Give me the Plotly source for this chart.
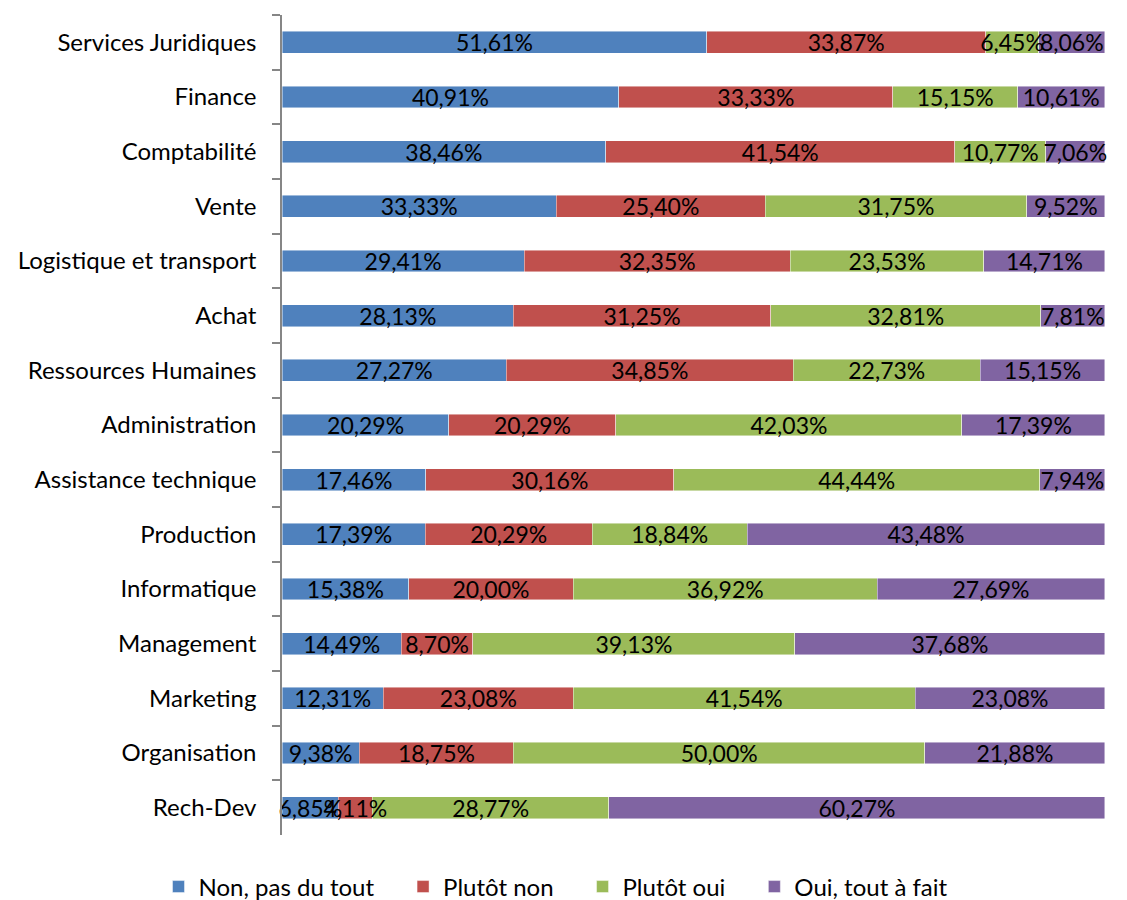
import plotly.graph_objects as go

categories = ["Services Juridiques", "Finance", "Comptabilité", "Vente",
              "Logistique et transport", "Achat", "Ressources Humaines",
              "Administration", "Assistance technique", "Production",
              "Informatique", "Management", "Marketing", "Organisation", "Rech-Dev"]

non_pas_du_tout = [51.61, 40.91, 38.46, 33.33, 29.41, 28.13, 27.27, 20.29, 17.46, 17.39, 15.38, 14.49, 12.31, 9.38, 6.85]
plutot_non = [33.87, 33.33, 41.54, 25.40, 32.35, 31.25, 34.85, 20.29, 30.16, 20.29, 20.00, 8.70, 23.08, 18.75, 4.11]
plutot_oui = [6.45, 15.15, 10.77, 31.75, 23.53, 32.81, 22.73, 42.03, 44.44, 18.84, 36.92, 39.13, 41.54, 50.00, 28.77]
oui_tout_a_fait = [8.06, 10.61, 7.06, 9.52, 14.71, 7.81, 15.15, 17.39, 7.94, 43.48, 27.69, 37.68, 23.08, 21.88, 60.27]

series_names = ["Non, pas du tout", "Plutôt non", "Plutôt oui", "Oui, tout à fait"]
colors = ["#4F81BD", "#C0504D", "#9BBB59", "#8064A2"]

FONT = "Lato, 'Open Sans', sans-serif"
LABEL_SIZE = 23
CAT_SIZE = 24

def fmt(v):
    return f"{v:.2f}".replace(".", ",") + "%"

all_series = [non_pas_du_tout, plutot_non, plutot_oui, oui_tout_a_fait]

fig = go.Figure()
# coloured bars
for name, vals, col in zip(series_names, all_series, colors):
    fig.add_trace(go.Bar(
        y=categories, x=vals, name=name + "\u2002\u2002", orientation="h",
        marker=dict(color=col, line=dict(color="rgba(255,255,255,0.6)", width=0.75)),
        hoverinfo="skip", xaxis="x", yaxis="y",
    ))
# transparent overlay bars carrying the labels, drawn on top of every bar
for name, vals in zip(series_names, all_series):
    fig.add_trace(go.Bar(
        y=categories, x=vals, name=name, orientation="h", showlegend=False,
        marker=dict(color="rgba(0,0,0,0)", line=dict(width=0)),
        text=[fmt(v) for v in vals], textposition="inside",
        insidetextanchor="middle", constraintext="none", cliponaxis=False,
        textfont=dict(color="black", size=LABEL_SIZE, family=FONT),
        hoverinfo="skip", xaxis="x2", yaxis="y",
    ))

fig.update_layout(
    barmode="stack", barnorm="percent", bargap=0.6,
    width=1119, height=892,
    margin=dict(l=274, r=22, t=7, b=65, autoexpand=False),
    plot_bgcolor="white", paper_bgcolor="white",
    font=dict(family=FONT, size=CAT_SIZE, color="black"),
    uniformtext=dict(minsize=LABEL_SIZE, mode="show"),
    legend=dict(orientation="h", x=0.5, xanchor="center", xref="container",
                y=0.0146, yanchor="middle", yref="container",
                font=dict(size=CAT_SIZE, family=FONT), itemwidth=30,
                traceorder="normal", bgcolor="rgba(0,0,0,0)"),
    showlegend=True,
    xaxis=dict(visible=False, range=[0, 100.01]),
    xaxis2=dict(visible=False, range=[-0.01, 100.01], overlaying="x"),
)
fig.update_yaxes(categoryorder="array", categoryarray=categories,
                 autorange="reversed", showline=True, linecolor="#868686",
                 linewidth=1.5, ticks="outside", tickson="boundaries",
                 ticklen=8, tickcolor="#868686", tickwidth=1.5,
                 ticklabelstandoff=19, showgrid=False,
                 tickfont=dict(size=CAT_SIZE, family=FONT, color="black"))

fig.write_html("out.html")
